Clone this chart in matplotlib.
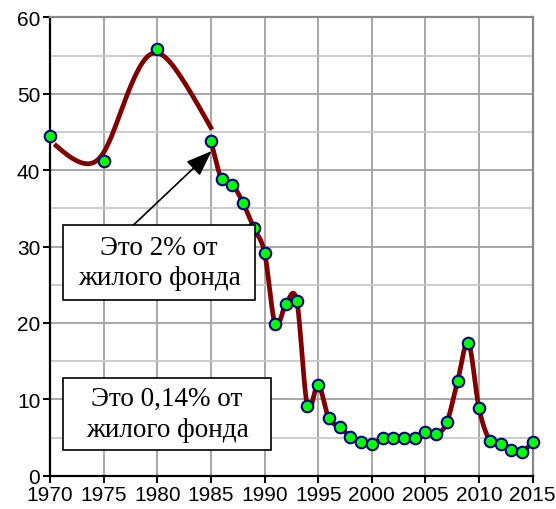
import numpy as np
import matplotlib
matplotlib.use("Agg")
import matplotlib.pyplot as plt
from matplotlib.patches import Rectangle

# ---- data ----
years = [1970, 1975, 1980, 1985, 1986, 1987, 1988, 1989, 1990, 1991, 1992, 1993,
         1994, 1995, 1996, 1997, 1998, 1999, 2000, 2001, 2002, 2003, 2004, 2005,
         2006, 2007, 2008, 2009, 2010, 2011, 2012, 2013, 2014, 2015]
values = [44.4, 41.2, 55.9, 43.8, 38.8, 38.1, 35.7, 32.4, 29.2, 19.8, 22.5, 22.9,
          9.1, 11.9, 7.5, 6.4, 5.1, 4.4, 4.1, 4.9, 4.9, 4.9, 4.9, 5.7,
          5.4, 7.0, 12.4, 17.4, 8.8, 4.6, 4.1, 3.3, 3.1, 4.4]
# early trend line (drawn separately from the markers)
trend_years = [1970.4, 1973.1, 1975.0, 1976.8, 1979.3, 1982.1, 1985.1]
trend_values = [43.4, 40.9, 42.3, 48.4, 55.1, 52.4, 45.3]

xticks = list(range(1970, 2016, 5))
yticks = list(range(0, 61, 10))
note1 = "Это 2% от\nжилого фонда"
note2 = "Это 0,14% от\nжилого фонда"


def smooth(xs, ys, n=20):
    """Bezier smoothing similar to spreadsheet smoothed lines."""
    xs = np.asarray(xs, float); ys = np.asarray(ys, float)
    px = np.concatenate([[2 * xs[0] - xs[1]], xs, [2 * xs[-1] - xs[-2]]])
    py = np.concatenate([[2 * ys[0] - ys[1]], ys, [2 * ys[-1] - ys[-2]]])
    ox, oy = [], []
    t = np.linspace(0, 1, n, endpoint=False)
    for i in range(1, len(px) - 2):
        p0x, p1x, p2x, p3x = px[i - 1:i + 3]
        p0y, p1y, p2y, p3y = py[i - 1:i + 3]
        c1x = p1x + (p2x - p0x) / 6; c1y = p1y + (p2y - p0y) / 6
        c2x = p2x - (p3x - p1x) / 6; c2y = p2y - (p3y - p1y) / 6
        bx = (1 - t) ** 3 * p1x + 3 * (1 - t) ** 2 * t * c1x + 3 * (1 - t) * t ** 2 * c2x + t ** 3 * p2x
        by = (1 - t) ** 3 * p1y + 3 * (1 - t) ** 2 * t * c1y + 3 * (1 - t) * t ** 2 * c2y + t ** 3 * p2y
        ox.extend(bx); oy.extend(by)
    ox.append(xs[-1]); oy.append(ys[-1])
    return np.array(ox), np.array(oy)


def natural_spline(xs, ys, n=300):
    xs = np.asarray(xs, float); ys = np.asarray(ys, float)
    k = len(xs); h = np.diff(xs)
    A = np.zeros((k, k)); b = np.zeros(k)
    A[0, 0] = A[-1, -1] = 1
    for i in range(1, k - 1):
        A[i, i - 1] = h[i - 1]; A[i, i] = 2 * (h[i - 1] + h[i]); A[i, i + 1] = h[i]
        b[i] = 3 * ((ys[i + 1] - ys[i]) / h[i] - (ys[i] - ys[i - 1]) / h[i - 1])
    c = np.linalg.solve(A, b)
    xx = np.linspace(xs[0], xs[-1], n)
    idx = np.clip(np.searchsorted(xs, xx) - 1, 0, k - 2)
    dx = xx - xs[idx]
    bb = (ys[idx + 1] - ys[idx]) / h[idx] - h[idx] * (2 * c[idx] + c[idx + 1]) / 3
    d = (c[idx + 1] - c[idx]) / (3 * h[idx])
    yy = ys[idx] + bb * dx + c[idx] * dx ** 2 + d * dx ** 3
    return xx, yy


W, H = 556, 510
fig = plt.figure(figsize=(W / 100, H / 100), dpi=100)
ax = fig.add_axes([50 / W, 1 - 476.7 / H, (532.7 - 50) / W, (476.7 - 18.3) / H])

ax.set_xlim(1970, 2015)
ax.set_ylim(0, 60)

# grid
for x in xticks:
    ax.axvline(x, color="#a0a0a0", lw=1.3, zorder=1)
for y in range(5, 60, 10):
    ax.axhline(y, color="#c8c8c8", lw=1.3, zorder=1)
for y in yticks[1:]:
    ax.axhline(y, color="#a0a0a0", lw=1.3, zorder=1)

# lines
lx, ly = natural_spline(trend_years, trend_values)
ax.plot(lx, ly, color="#800000", lw=3.4, zorder=3, solid_capstyle="butt")
sel = [i for i, y in enumerate(years) if y >= 1985]
sx, sy = smooth([years[i] for i in sel], [values[i] for i in sel], n=12)
ax.plot(sx, sy, color="#800000", lw=3.4, zorder=3, solid_joinstyle="round")

ax.plot(years, values, ls="none", marker="o", ms=8.3, mfc="#00ff00", mec="#000080",
        mew=1.5, zorder=4, clip_on=False)

# spines
ax.spines["left"].set_color("black"); ax.spines["left"].set_linewidth(1.6)
ax.spines["bottom"].set_color("black"); ax.spines["bottom"].set_linewidth(1.6)
ax.spines["top"].set_color("#888888"); ax.spines["top"].set_linewidth(1.6)
ax.spines["right"].set_color("#888888"); ax.spines["right"].set_linewidth(1.6)

ax.set_xticks(xticks)
ax.set_yticks(yticks)
ax.tick_params(axis="both", direction="out", length=5, width=1.4, color="black",
               labelsize=15, pad=2)
for lab in ax.get_xticklabels() + ax.get_yticklabels():
    lab.set_fontfamily("Liberation Sans")


def box(x0, y0, x1, y1, text):
    fig.patches.append(Rectangle((x0 / W, 1 - y1 / H), (x1 - x0) / W, (y1 - y0) / H,
                                 transform=fig.transFigure, facecolor="white",
                                 edgecolor="black", lw=1.2, zorder=5))
    fig.text((x0 + x1) / 2 / W, 1 - (y0 + y1) / 2 / H, text, ha="center", va="center",
             family="Liberation Serif", fontsize=19.5, linespacing=1.3, zorder=6)

ax.annotate("", xy=(1985.07, 42.5), xytext=(1977.7, 32.7),
            arrowprops=dict(arrowstyle="-|>,head_length=0.8,head_width=0.3",
                            mutation_scale=20, color="black", lw=1.2,
                            shrinkA=0, shrinkB=0), zorder=5)

box(63, 226, 255, 301, note1)
box(63, 379, 271, 451, note2)

fig.savefig("out.png", dpi=100)
